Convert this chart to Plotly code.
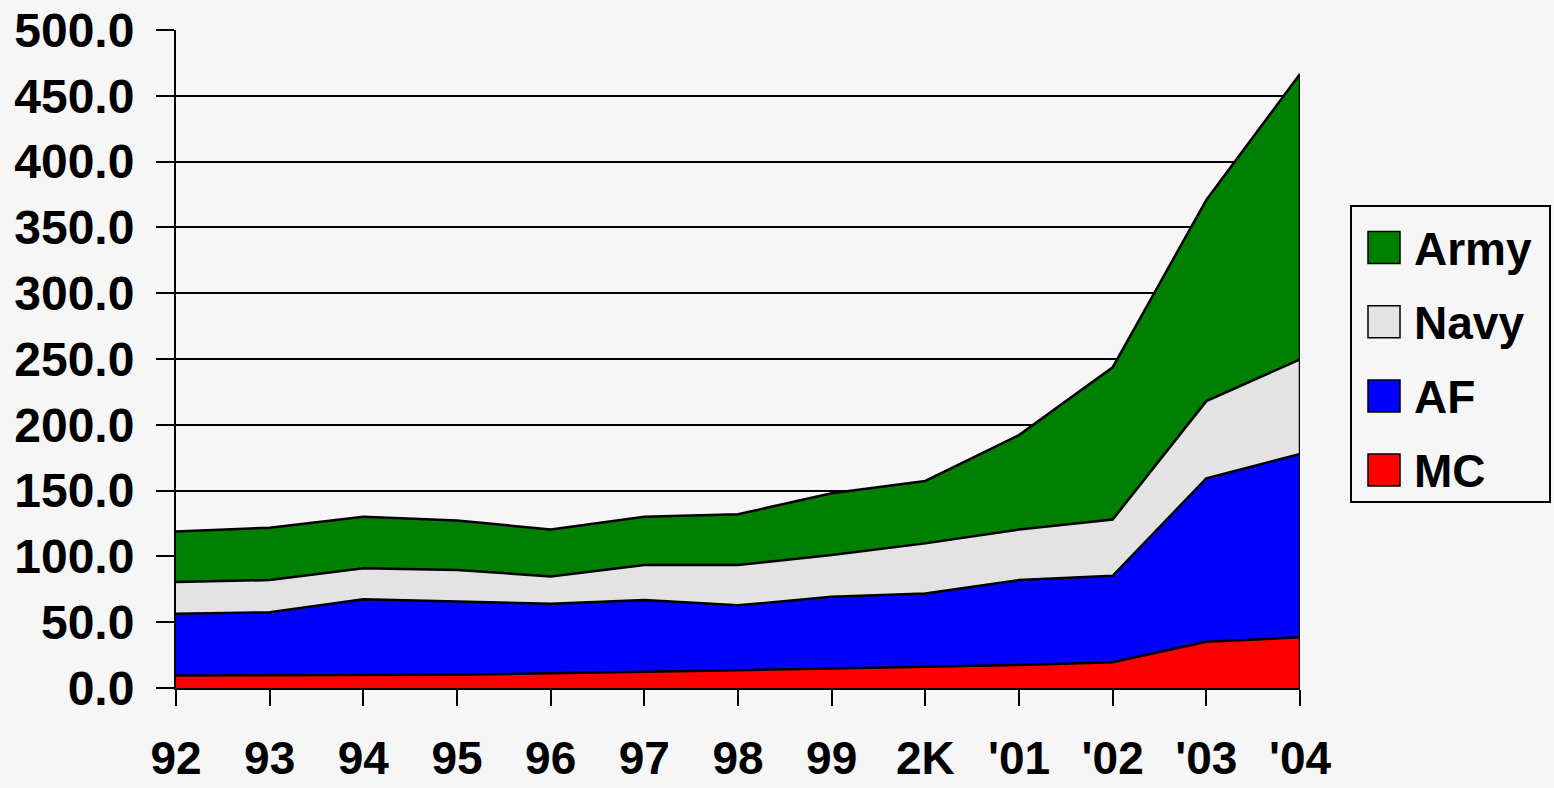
import plotly.graph_objects as go

years = ["92", "93", "94", "95", "96", "97", "98", "99", "2K", "'01", "'02", "'03", "'04"]
mc   = [9.5, 9.6, 9.6, 10.0, 11.2, 12.2, 13.5, 14.8, 16.2, 17.5, 19.5, 35.2, 38.5]
af   = [47.0, 48.0, 57.8, 55.6, 52.8, 54.7, 49.3, 54.6, 55.7, 64.5, 65.8, 124.1, 139.3]
navy = [24.1, 24.4, 23.6, 24.1, 20.8, 26.6, 30.7, 31.6, 38.0, 38.4, 42.7, 58.7, 71.9]
army = [38.4, 39.8, 39.2, 37.5, 35.7, 36.7, 38.5, 47.0, 47.4, 71.8, 115.7, 152.8, 216.9]

series = [("MC", mc, "#ff0000"), ("AF", af, "#0000ff"),
          ("Navy", navy, "#e3e3e3"), ("Army", army, "#008000")]

FONT = "Liberation Sans, Arial, sans-serif"
BG = "#f6f6f6"

fig = go.Figure()
for name, vals, col in series:
    fig.add_trace(go.Scatter(
        x=years, y=vals, name=name, mode="lines", stackgroup="one",
        line=dict(color="black", width=2.5), fillcolor=col, showlegend=False,
        hoverinfo="x+y+name"))

total_last = mc[-1] + af[-1] + navy[-1] + army[-1]
fig.add_trace(go.Scatter(x=[years[-1], years[-1]], y=[0, total_last], mode="lines",
                         line=dict(color="black", width=2.5), showlegend=False,
                         hoverinfo="skip"))

# custom legend
L, R, T, B = 176, 1300, 30, 688
W, H = R - L, B - T
px = lambda v: (v - L) / W
py = lambda v: (B - v) / H
shapes = [dict(type="rect", xref="paper", yref="paper",
               x0=px(1351), x1=px(1550), y0=py(502), y1=py(206),
               line=dict(color="black", width=2), fillcolor=BG, layer="above")]
annotations = []
legend_order = ["Army", "Navy", "AF", "MC"]
colmap = {n: c for n, _, c in series}
for i, name in enumerate(legend_order):
    cy = 247.5 + i * 74.2
    shapes.append(dict(type="rect", xref="paper", yref="paper",
                       x0=px(1368), x1=px(1400), y0=py(cy + 16), y1=py(cy - 16),
                       line=dict(color="black", width=1.5), fillcolor=colmap[name]))
    annotations.append(dict(xref="paper", yref="paper", x=px(1412), y=py(cy + 1),
                            xanchor="left", yanchor="middle", showarrow=False,
                            text="<b>%s</b>" % name,
                            font=dict(family=FONT, size=46, color="black")))

fig.update_layout(
    width=1554, height=788,
    margin=dict(l=L, r=1554 - R, t=T, b=788 - B, autoexpand=False),
    paper_bgcolor=BG, plot_bgcolor=BG,
    shapes=shapes, annotations=annotations,
    font=dict(family=FONT, color="black"),
    xaxis=dict(type="category", range=[0, len(years) - 1], automargin=False,
               showgrid=False, showline=True, linecolor="black", linewidth=2,
               ticks="outside", ticklen=16, tickwidth=2, tickcolor="black",
               tickfont=dict(family=FONT, size=46, color="black", weight="bold"),
               ticklabelstandoff=13, zeroline=False),
    yaxis=dict(range=[0, 500], dtick=50, tickformat=".1f", automargin=False,
               showgrid=True, gridcolor="black", gridwidth=1.5,
               showline=True, linecolor="black", linewidth=2,
               ticks="outside", ticklen=18, tickwidth=2, tickcolor="black",
               tickfont=dict(family=FONT, size=48, color="black", weight="bold"),
               ticklabelstandoff=12, zeroline=False),
)

fig.write_html("out.html", config={"displayModeBar": False},
               post_script="document.body.style.margin='0';document.body.style.overflow='hidden';")
